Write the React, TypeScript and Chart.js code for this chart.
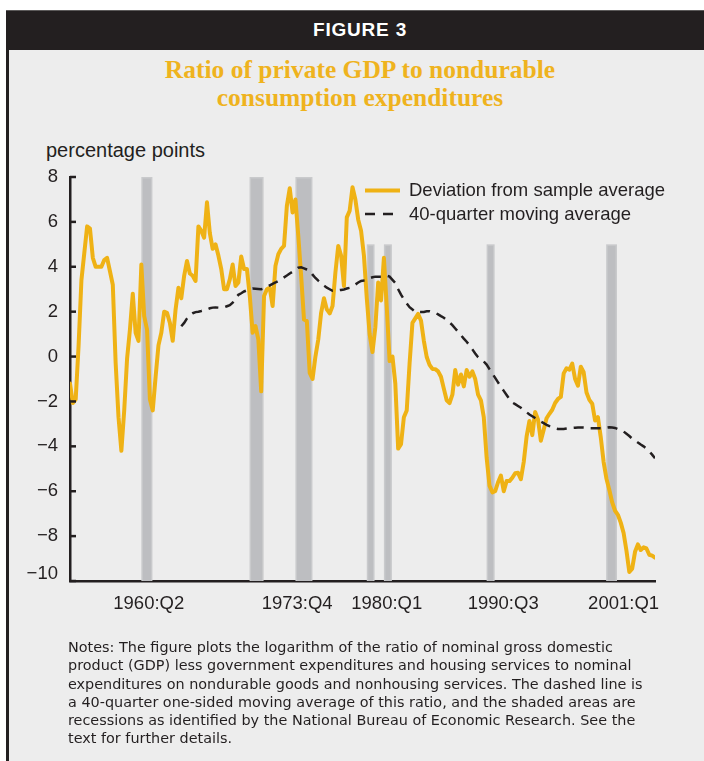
import React, { useEffect, useRef } from "react";
import { Chart, registerables } from "chart.js";

Chart.register(...registerables);

// Quarterly data, first observation 1954:Q1
const startYear = 1954;

// Deviation of log(private GDP / nondurable consumption) from sample average, percentage points
const deviation = [
  -1.2, -2.07, -1.9, 0.46, 3.4, 4.6, 5.8, 5.7, 4.4, 4.0,
  4.0, 4.0, 4.3, 4.4, 3.8, 3.2, -0.3, -2.7, -4.2, -2.4,
  -0.1, 1.2, 2.8, 1.06, 0.7, 4.1, 1.8, 1.2, -1.9, -2.4,
  -0.9, 0.5, 1.06, 2.0, 1.95, 1.5, 0.7, 2.1, 3.07, 2.6,
  3.6, 4.26, 3.7, 3.6, 3.37, 5.8, 5.6, 5.3, 6.87, 5.5,
  4.8, 5.0, 4.5, 3.9, 3.0, 3.0, 3.44, 4.1, 3.14, 3.3,
  4.46, 3.9, 3.9, 2.7, 1.06, 1.36, 0.76, -1.55, 2.7, 3.0,
  3.07, 2.25, 4.04, 4.56, 4.8, 4.93, 6.72, 7.5, 6.42, 7.0,
  5.38, 3.6, 1.65, 1.58, -0.73, -1.0, 0.0, 0.76, 1.95, 2.6,
  2.1, 1.92, 2.25, 3.74, 4.93, 4.5, 3.14, 6.2, 6.5, 7.54,
  7.0, 6.1, 5.6, 4.5, 2.6, 1.0, 0.2, 1.3, 3.3, 2.5,
  4.4, 2.2, -0.2, 0.0, -1.2, -4.1, -3.9, -2.7, -2.4, -0.3,
  1.5, 1.7, 1.9, 1.6, 0.7, -0.02, -0.37, -0.55, -0.56, -0.66,
  -0.9, -1.43, -1.95, -2.07, -1.7, -0.6, -1.25, -0.8, -1.33, -0.6,
  -0.9, -0.66, -1.0, -1.7, -1.95, -2.7, -4.5, -5.75, -6.05, -6.0,
  -5.6, -5.3, -6.0, -5.55, -5.55, -5.4, -5.2, -5.18, -5.46, -4.7,
  -3.57, -2.87, -3.5, -2.47, -2.8, -3.75, -3.26, -2.75, -2.55, -2.37,
  -2.07, -1.89, -1.8, -0.75, -0.52, -0.58, -0.31, -1.0, -1.3, -0.45,
  -0.7, -1.6, -1.93, -2.1, -2.85, -2.7, -3.6, -4.7, -5.45, -5.95,
  -6.5, -6.87, -7.05, -7.4, -7.86, -8.65, -9.6, -9.45, -8.7, -8.37,
  -8.62, -8.5, -8.55, -8.83, -8.87, -8.96,
];

// 40-quarter one-sided moving average, starts at the 40th quarter
const maStartIndex = 39;
const movingAverage = [
  1.35, 1.5, 1.7, 1.85, 1.93, 1.98, 2.0, 2.03, 2.07, 2.1,
  2.15, 2.18, 2.19, 2.18, 2.18, 2.19, 2.24, 2.29, 2.4, 2.6,
  2.75, 2.82, 2.9, 2.95, 3.0, 3.03, 3.02, 3.01, 3.0, 3.04,
  3.1, 3.17, 3.24, 3.3, 3.37, 3.45, 3.53, 3.61, 3.7, 3.78,
  3.87, 3.96, 3.98, 3.93, 3.88, 3.83, 3.65, 3.5, 3.38, 3.27,
  3.16, 3.07, 3.0, 2.93, 2.93, 2.95, 2.97, 2.99, 3.03, 3.06,
  3.13, 3.21, 3.3, 3.37, 3.39, 3.42, 3.49, 3.53, 3.56, 3.56,
  3.56, 3.58, 3.6, 3.56, 3.42, 3.28, 3.0, 2.76, 2.55, 2.37,
  2.2, 2.1, 1.98, 1.98, 1.98, 1.99, 2.02, 2.02, 1.98, 1.95,
  1.88, 1.8, 1.73, 1.63, 1.52, 1.4, 1.25, 1.1, 0.95, 0.8,
  0.66, 0.5, 0.32, 0.14, -0.03, -0.13, -0.22, -0.36, -0.56, -0.76,
  -0.95, -1.15, -1.35, -1.53, -1.71, -1.9, -2.05, -2.12, -2.2, -2.28,
  -2.38, -2.48, -2.58, -2.66, -2.74, -2.82, -2.9, -2.97, -3.04, -3.1,
  -3.15, -3.2, -3.23, -3.23, -3.23, -3.21, -3.19, -3.18, -3.17, -3.16,
  -3.16, -3.16, -3.17, -3.19, -3.19, -3.19, -3.19, -3.19, -3.19, -3.17,
  -3.15, -3.16, -3.18, -3.23, -3.29, -3.34, -3.44, -3.54, -3.66, -3.73,
  -3.83, -3.92, -4.0, -4.1, -4.23, -4.37, -4.53,
];

// NBER recessions (decimal years) and the height of each shaded band
const recessionStart = [1960.25, 1969.73, 1973.75, 1980.0, 1981.5, 1990.5, 2000.97];
const recessionEnd = [1961.22, 1970.96, 1975.24, 1980.68, 1982.2, 1991.2, 2001.92];
const recessionTop = [8, 8, 8, 5, 5, 5, 5];

const yTicks = [8, 6, 4, 2, 0, -2, -4, -6, -8, -10];
const xTickAt = [1960.9, 1973.9, 1981.75, 1991.95, 2002.5];
const xTickLabels = ["1960:Q2", "1973:Q4", "1980:Q1", "1990:Q3", "2001:Q1"];
const seriesLabels = ["Deviation from sample average", "40-quarter moving average"];

const YELLOW = "#efb215";
const DARK = "#231f20";
const SANS = "'Liberation Sans', Arial, Helvetica, sans-serif";

const fmtTick = (v: number) => (v < 0 ? "\u2212" + Math.abs(v) : String(v));

export default function App() {
  const canvasRef = useRef<HTMLCanvasElement | null>(null);

  useEffect(() => {
    if (!canvasRef.current) return;
    Chart.defaults.font.family = SANS;

    const devPts = deviation.map((y, i) => ({ x: startYear + i / 4, y }));
    const maPts = movingAverage.map((y, i) => ({ x: startYear + (maStartIndex + i) / 4, y }));
    const yMin = Math.min(...yTicks);

    const bandsPlugin = {
      id: "recessionBands",
      beforeDatasetsDraw(chart: any) {
        const { ctx, scales } = chart;
        const xs = scales.x, ys = scales.y;
        ctx.save();
        recessionStart.forEach((s: number, k: number) => {
          const x0 = xs.getPixelForValue(s);
          const x1 = xs.getPixelForValue(recessionEnd[k]);
          const yt = ys.getPixelForValue(recessionTop[k]);
          const yb = ys.getPixelForValue(yMin);
          ctx.fillStyle = "#c9cacc";
          ctx.fillRect(x0, yt, x1 - x0, yb - yt);
          ctx.fillStyle = "#bdbec1";
          ctx.fillRect(x0 + 1.5, yt + 1.5, x1 - x0 - 3, yb - yt - 1.5);
        });
        ctx.restore();
      },
    };

    const innerTicksPlugin = {
      id: "innerTicks",
      afterDraw(chart: any) {
        const { ctx, scales, chartArea } = chart;
        ctx.save();
        ctx.strokeStyle = DARK;
        ctx.lineWidth = 2.5;
        yTicks.forEach((v) => {
          const py = scales.y.getPixelForValue(v);
          ctx.beginPath();
          ctx.moveTo(chartArea.left, py);
          ctx.lineTo(chartArea.left + 6, py);
          ctx.stroke();
        });
        // bottom tick label sits a little above the x-axis line
        ctx.fillStyle = DARK;
        ctx.font = `18.5px ${SANS}`;
        ctx.textAlign = "right";
        ctx.textBaseline = "middle";
        ctx.fillText(fmtTick(yMin), chartArea.left - 12, scales.y.getPixelForValue(yMin) - 7);
        ctx.restore();
      },
    };

    const legendPlugin = {
      id: "customLegend",
      afterDraw(chart: any) {
        const ctx = chart.ctx;
        const lx = 365, tx = 409, y1 = 60.5, y2 = 84;
        ctx.save();
        ctx.strokeStyle = YELLOW;
        ctx.lineWidth = 4;
        ctx.beginPath();
        ctx.moveTo(lx, y1);
        ctx.lineTo(lx + 35, y1);
        ctx.stroke();
        ctx.strokeStyle = DARK;
        ctx.lineWidth = 2.5;
        ctx.setLineDash([10, 8]);
        ctx.beginPath();
        ctx.moveTo(lx, y2);
        ctx.lineTo(lx + 30, y2);
        ctx.stroke();
        ctx.setLineDash([]);
        ctx.fillStyle = DARK;
        ctx.font = `18.5px ${SANS}`;
        ctx.textBaseline = "middle";
        ctx.textAlign = "left";
        ctx.fillText(seriesLabels[0], tx, y1 + 0.5);
        ctx.fillText(seriesLabels[1], tx, y2 + 0.5);
        ctx.restore();
      },
    };

    const chart = new Chart(canvasRef.current, {
      type: "line",
      data: {
        datasets: [
          {
            label: seriesLabels[1],
            data: maPts,
            borderColor: DARK,
            borderWidth: 2.5,
            borderDash: [10, 7],
            pointRadius: 0,
            tension: 0,
            fill: false,
            order: 0,
          },
          {
            label: seriesLabels[0],
            data: devPts,
            borderColor: YELLOW,
            borderWidth: 4,
            borderJoinStyle: "round",
            borderCapStyle: "round",
            pointRadius: 0,
            tension: 0,
            fill: false,
            order: 1,
          },
        ],
      },
      options: {
        animation: false,
        responsive: true,
        maintainAspectRatio: false,
        layout: { padding: { top: 47, right: 49, left: 0, bottom: 0 } },
        plugins: { legend: { display: false }, tooltip: { enabled: false } },
        scales: {
          x: {
            type: "linear",
            min: 1954,
            max: 2005.25,
            grid: { display: false, drawTicks: false },
            border: { display: true, color: DARK, width: 2.5 },
            afterBuildTicks: (s: any) => {
              s.ticks = xTickAt.map((v) => ({ value: v }));
            },
            afterFit: (s: any) => {
              s.height = 59;
            },
            ticks: {
              autoSkip: false,
              maxRotation: 0,
              padding: 12,
              color: DARK,
              font: { size: 18.5, family: SANS },
              callback: (_v: any, i: number) => xTickLabels[i],
            },
          },
          y: {
            type: "linear",
            min: -10,
            max: 8,
            grid: { display: false, drawTicks: false },
            border: { display: true, color: DARK, width: 2.5 },
            afterFit: (s: any) => {
              s.width = 70;
            },
            ticks: {
              stepSize: 2,
              padding: 12,
              color: DARK,
              font: { size: 18.5, family: SANS },
              callback: (v: any) => (Number(v) === yMin ? "" : fmtTick(Number(v))),
            },
          },
        },
      },
      plugins: [bandsPlugin, innerTicksPlugin, legendPlugin],
    } as any);

    return () => chart.destroy();
  }, []);

  return (
    <div
      style={{
        position: "fixed",
        left: 0,
        top: 0,
        width: 704,
        height: 761,
        background: "#ffffff",
        overflow: "hidden",
        fontFamily: SANS,
        color: DARK,
      }}
    >
      <div
        style={{
          position: "absolute",
          left: 6,
          top: 10,
          width: 720,
          height: 760,
          background: "#ededed",
          borderLeft: `3px solid ${DARK}`,
          boxSizing: "border-box",
        }}
      />
      <div
        style={{
          position: "absolute",
          left: 6,
          top: 10,
          width: 720,
          height: 40,
          background: DARK,
          borderTop: "1px solid #5c5a5a",
          boxSizing: "border-box",
        }}
      />
      <div
        style={{
          position: "absolute",
          left: 0,
          top: 10,
          width: 720,
          height: 40,
          lineHeight: "40px",
          textAlign: "center",
          color: "#ffffff",
          fontWeight: 700,
          fontSize: 19,
          letterSpacing: 0.8,
          fontFamily: SANS,
        }}
      >
        FIGURE 3
      </div>
      <div
        style={{
          position: "absolute",
          left: 0,
          top: 56,
          width: 720,
          textAlign: "center",
          color: "#efb31e",
          fontWeight: 700,
          fontSize: 25.5,
          lineHeight: "28px",
          fontFamily: "'Liberation Serif', 'Times New Roman', serif",
        }}
      >
        Ratio of private GDP to nondurable
        <br />
        consumption expenditures
      </div>
      <div
        style={{
          position: "absolute",
          left: 46,
          top: 138,
          fontSize: 20,
          lineHeight: "24px",
          fontFamily: SANS,
          color: DARK,
        }}
      >
        percentage points
      </div>
      <div style={{ position: "absolute", left: 0, top: 130, width: 704, height: 510 }}>
        <canvas ref={canvasRef} />
      </div>
      <div
        style={{
          position: "absolute",
          left: 68,
          top: 638,
          fontSize: 14.4,
          lineHeight: "18.3px",
          whiteSpace: "pre",
          fontFamily: "'DejaVu Sans', Verdana, sans-serif",
          color: DARK,
        }}
      >
        {"Notes: The figure plots the logarithm of the ratio of nominal gross domestic\n" +
          "product (GDP) less government expenditures and housing services to nominal\n" +
          "expenditures on nondurable goods and nonhousing services. The dashed line is\n" +
          "a 40-quarter one-sided moving average of this ratio, and the shaded areas are\n" +
          "recessions as identified by the National Bureau of Economic Research. See the\n" +
          "text for further details."}
      </div>
    </div>
  );
}
